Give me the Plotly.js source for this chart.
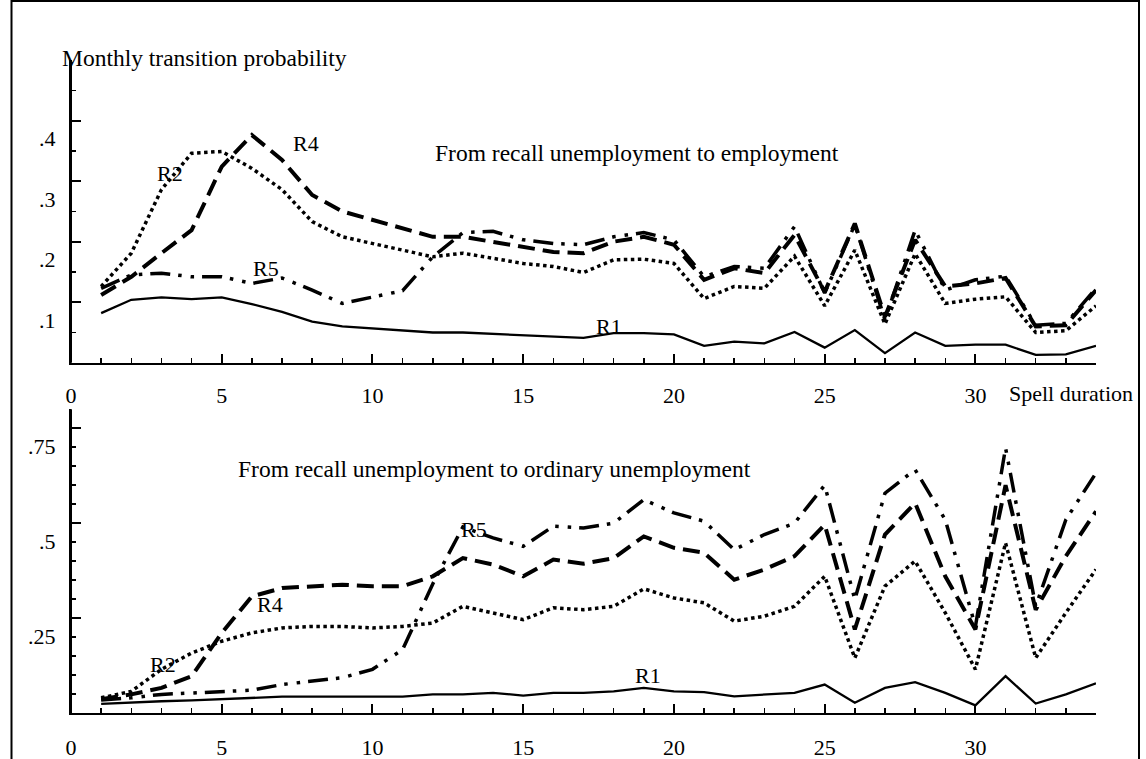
<!DOCTYPE html>
<html>
<head>
<meta charset="utf-8">
<script src="https://cdn.plot.ly/plotly-3.0.1.min.js"></script>
<style>
  html, body { margin: 0; padding: 0; background: #fff; }
  #chart { width: 1146px; height: 759px; }
</style>
</head>
<body>
<div id="chart"></div>
<script>
// ---- Data ----
const duration = [1,2,3,4,5,6,7,8,9,10,11,12,13,14,15,16,17,18,19,20,21,22,23,24,25,26,27,28,29,30,31,32,33,34];

// Panel 1: from recall unemployment to employment
const empR1 = [0.082,0.104,0.108,0.105,0.108,0.097,0.084,0.068,0.060,0.057,0.053,0.050,0.050,0.048,0.046,0.043,0.041,0.049,0.049,0.047,0.028,0.035,0.032,0.051,0.025,0.054,0.016,0.050,0.028,0.030,0.030,0.013,0.014,0.028];
const empR2 = [0.126,0.181,0.286,0.346,0.349,0.321,0.286,0.233,0.208,0.197,0.186,0.175,0.181,0.173,0.164,0.159,0.149,0.170,0.171,0.164,0.106,0.126,0.123,0.176,0.094,0.186,0.064,0.180,0.098,0.105,0.109,0.050,0.053,0.094];
const empR4 = [0.112,0.142,0.181,0.219,0.324,0.376,0.335,0.277,0.250,0.236,0.222,0.208,0.208,0.200,0.192,0.183,0.181,0.200,0.208,0.195,0.137,0.156,0.148,0.211,0.117,0.230,0.076,0.203,0.126,0.131,0.140,0.060,0.062,0.120];
const empR5 = [0.123,0.145,0.148,0.142,0.142,0.131,0.140,0.120,0.098,0.109,0.119,0.175,0.215,0.217,0.203,0.197,0.195,0.208,0.215,0.203,0.142,0.159,0.156,0.225,0.115,0.228,0.071,0.219,0.120,0.137,0.143,0.062,0.065,0.123];

// Panel 2: from recall unemployment to ordinary unemployment
const ordR1 = [0.024,0.028,0.031,0.033,0.036,0.040,0.043,0.043,0.043,0.043,0.043,0.049,0.049,0.053,0.046,0.053,0.053,0.057,0.066,0.057,0.055,0.044,0.049,0.053,0.075,0.027,0.066,0.081,0.053,0.020,0.097,0.025,0.049,0.078];
const ordR2 = [0.040,0.057,0.115,0.158,0.189,0.211,0.224,0.228,0.228,0.224,0.228,0.237,0.281,0.264,0.246,0.277,0.272,0.281,0.327,0.303,0.290,0.242,0.255,0.281,0.360,0.145,0.334,0.400,0.264,0.115,0.448,0.145,0.264,0.378];
const ordR4 = [0.036,0.049,0.066,0.097,0.211,0.307,0.329,0.334,0.338,0.334,0.334,0.360,0.408,0.391,0.360,0.404,0.393,0.408,0.465,0.435,0.422,0.351,0.378,0.413,0.496,0.220,0.470,0.553,0.360,0.220,0.600,0.272,0.413,0.531];
const ordR5 = [0.034,0.040,0.049,0.053,0.055,0.060,0.075,0.084,0.093,0.115,0.167,0.340,0.490,0.461,0.439,0.492,0.487,0.500,0.562,0.527,0.505,0.430,0.470,0.500,0.600,0.299,0.579,0.641,0.509,0.228,0.698,0.281,0.509,0.632];

// Tick labels
const xTickVals = [0,5,10,15,20,25,30];
const xTickText = ['0','5','10','15','20','25','30'];
const yTopVals = [0.1,0.2,0.3,0.4];
const yTopText = ['.1','.2','.3','.4'];
const yBotVals = [0.25,0.5,0.75];
const yBotText = ['.25','.5','.75'];

// ---- Styles ----
const FONT = 'Liberation Serif, Times New Roman, serif';
const TICK_SIZE = 22, TITLE_SIZE = 23.5, LABEL_SIZE = 22;
const styles = {
  R1: {color:'#000', width:2.3, dash:'solid'},
  R2: {color:'#000', width:3.5, dash:'3.5px,3.5px'},
  R4: {color:'#000', width:4, dash:'17px,8px'},
  R5: {color:'#000', width:3.5, dash:'20px,8px,3.5px,9px,3.5px,8px'}
};

function tr(x, y, name, xa, ya) {
  return {x: x, y: y, type:'scatter', mode:'lines', name: name,
          xaxis: xa, yaxis: ya, line: styles[name], hoverinfo:'skip'};
}

const data = [
  tr(duration, empR1, 'R1', 'x', 'y'),
  tr(duration, empR2, 'R2', 'x', 'y'),
  tr(duration, empR4, 'R4', 'x', 'y'),
  tr(duration, empR5, 'R5', 'x', 'y'),
  tr(duration, ordR1, 'R1', 'x2', 'y2'),
  tr(duration, ordR2, 'R2', 'x2', 'y2'),
  tr(duration, ordR4, 'R4', 'x2', 'y2'),
  tr(duration, ordR5, 'R5', 'x2', 'y2')
];

// ---- Geometry (pixels) ----
const W = 1146, H = 759;
const L = 71, R = 1096, T = 60, B = 713.5;
const topBottomPx = 363, botTopPx = 409.5;
const pw = R - L, ph = B - T;
const px2x = p => (p - L) / pw;
const px2y = p => (B - p) / ph;
const topDomain = [px2y(topBottomPx), 1];
const botDomain = [0, px2y(botTopPx)];

function xAxis(anchor, standoff) {
  return {
    anchor: anchor, domain:[0,1], range:[0,34], showgrid:false, zeroline:false,
    showline:true, linecolor:'#000', linewidth:2,
    ticks:'inside', ticklen:9, tickwidth:2, tickcolor:'#000',
    tickmode:'array', tickvals:xTickVals, ticktext:xTickText,
    ticklabelstandoff: standoff,
    minor:{tickmode:'linear', tick0:0, dtick:1, ticks:'inside', ticklen:5, tickwidth:1.5, tickcolor:'#000', showgrid:false},
    tickfont:{family:FONT, size:TICK_SIZE, color:'#000'}
  };
}
function yAxis(anchor, domain, range, vals, text, minorStep) {
  return {
    anchor: anchor, domain: domain, range: range, showgrid:false, zeroline:false,
    showline:true, mirror:false, linecolor:'#000', linewidth:2,
    ticks:'inside', ticklen:10, tickwidth:2, tickcolor:'#000',
    tickmode:'array', tickvals: vals, ticktext: text,
    ticklabelstandoff: 9, ticklabelshift: 18,
    minor:{tickmode:'linear', tick0:0, dtick:minorStep, ticks:'inside', ticklen:5, tickwidth:1.5, tickcolor:'#000', showgrid:false},
    tickfont:{family:FONT, size:TICK_SIZE, color:'#000'}
  };
}

function ann(text, px, py, xanchor, size) {
  return {text: text, x: px2x(px), y: px2y(py), xref:'paper', yref:'paper',
          xanchor: xanchor || 'center', yanchor:'middle', showarrow:false,
          font:{family:FONT, size: size || LABEL_SIZE, color:'#000'}};
}

function vline(domain) {
  return {type:'line', xref:'paper', yref:'paper', x0:0, x1:0, y0:domain[0], y1:domain[1],
          line:{color:'#000', width:2}, layer:'above'};
}

const layout = {
  width: W, height: H,
  margin: {l: L, r: W - R, t: T, b: H - B, pad: 0},
  paper_bgcolor:'#fff', plot_bgcolor:'rgba(0,0,0,0)',
  showlegend:false,
  xaxis: xAxis('y', 12),
  yaxis: yAxis('x', topDomain, [0, 0.5], yTopVals, yTopText, 0.05),
  xaxis2: xAxis('y2', 14),
  yaxis2: yAxis('x2', botDomain, [0, 0.8], yBotVals, yBotText, 0.05),
  annotations: [
    ann('Monthly transition probability', 60, 58, 'left', TITLE_SIZE),
    ann('From recall unemployment to employment', 433, 153, 'left', TITLE_SIZE),
    ann('R2', 170, 174),
    ann('R4', 306, 144),
    ann('R5', 266, 269),
    ann('R1', 609, 327),
    ann('Spell duration', 1007, 394, 'left'),
    ann('From recall unemployment to ordinary unemployment', 236, 469, 'left', TITLE_SIZE),
    ann('R2', 163, 665),
    ann('R4', 270, 605),
    ann('R5', 474, 530),
    ann('R1', 648, 676)
  ],
  shapes: [
    vline(topDomain),
    vline(botDomain),
    {type:'rect', xref:'paper', yref:'paper',
     x0: px2x(11.5), x1: px2x(1139), y0: px2y(790), y1: px2y(1),
     line:{color:'#000', width:2}, fillcolor:'rgba(0,0,0,0)', layer:'above'}
  ]
};

Plotly.newPlot('chart', data, layout, {displayModeBar:false, staticPlot:true});
</script>
</body>
</html>
